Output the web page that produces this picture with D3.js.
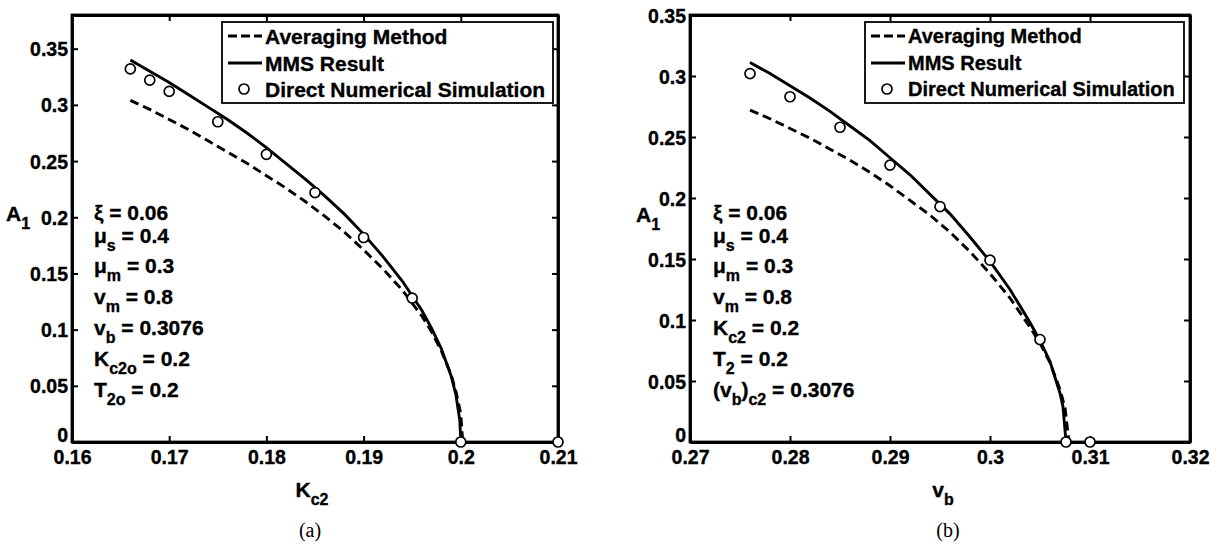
<!DOCTYPE html>
<html>
<head>
<meta charset="utf-8">
<script src="https://cdn.jsdelivr.net/npm/d3@7"></script>
<style>
  html, body { margin: 0; padding: 0; background: #fff; }
  svg { display: block; }
  .bold { font-family: "Liberation Sans", Arial, Helvetica, sans-serif; font-weight: bold; fill: #000; stroke: #000; stroke-width: 0.35px; }
  .cap { font-family: "Liberation Serif", "Times New Roman", serif; fill: #000; }
</style>
</head>
<body>
<svg id="chart" width="1222" height="550"></svg>
<script>
// ---------------- DATA ----------------
// Panel (a): A1 vs Kc2
const leftMmsX = [0.166, 0.168, 0.170, 0.172, 0.174, 0.176, 0.178, 0.180, 0.182, 0.184, 0.186, 0.188, 0.190, 0.192, 0.194, 0.196, 0.197, 0.198, 0.199, 0.1995, 0.1999, 0.2000];
const leftMmsY = [0.340, 0.330, 0.320, 0.309, 0.298, 0.287, 0.275, 0.262, 0.248, 0.234, 0.219, 0.203, 0.185, 0.165, 0.143, 0.117, 0.101, 0.083, 0.059, 0.042, 0.019, 0.000];
const leftAvgX = [0.166, 0.168, 0.170, 0.172, 0.174, 0.176, 0.178, 0.180, 0.182, 0.184, 0.186, 0.188, 0.190, 0.192, 0.194, 0.196, 0.197, 0.198, 0.199, 0.1995, 0.2000, 0.2002];
const leftAvgY = [0.304, 0.296, 0.287, 0.278, 0.268, 0.258, 0.248, 0.237, 0.226, 0.214, 0.201, 0.187, 0.171, 0.154, 0.135, 0.112, 0.098, 0.081, 0.060, 0.045, 0.025, 0.000];
const leftDnsX = [0.166, 0.168, 0.170, 0.175, 0.180, 0.185, 0.190, 0.195, 0.200, 0.210];
const leftDnsY = [0.332, 0.322, 0.312, 0.285, 0.256, 0.222, 0.182, 0.128, 0.000, 0.000];
const leftXTicks = [0.16, 0.17, 0.18, 0.19, 0.2, 0.21];
const leftXTickLabels = ["0.16", "0.17", "0.18", "0.19", "0.2", "0.21"];
const leftYTicks = [0, 0.05, 0.1, 0.15, 0.2, 0.25, 0.3, 0.35];
const leftYTickLabels = ["0", "0.05", "0.1", "0.15", "0.2", "0.25", "0.3", "0.35"];
const leftParams = [
  [["ξ = 0.06", ""]],
  [["μ", ""], ["s", "sub"], [" = 0.4", ""]],
  [["μ", ""], ["m", "sub"], [" = 0.3", ""]],
  [["v", ""], ["m", "sub"], [" = 0.8", ""]],
  [["v", ""], ["b", "sub"], [" = 0.3076", ""]],
  [["K", ""], ["c2o", "sub"], [" = 0.2", ""]],
  [["T", ""], ["2o", "sub"], [" = 0.2", ""]]
];

// Panel (b): A1 vs vb
const rightMmsX = [0.276, 0.278, 0.280, 0.282, 0.284, 0.286, 0.288, 0.290, 0.292, 0.294, 0.296, 0.298, 0.300, 0.302, 0.304, 0.305, 0.306, 0.307, 0.3073, 0.3076];
const rightMmsY = [0.311, 0.302, 0.292, 0.282, 0.271, 0.259, 0.247, 0.233, 0.219, 0.203, 0.187, 0.168, 0.148, 0.125, 0.098, 0.083, 0.066, 0.040, 0.029, 0.000];
const rightAvgX = [0.276, 0.278, 0.280, 0.282, 0.284, 0.286, 0.288, 0.290, 0.292, 0.294, 0.296, 0.298, 0.300, 0.302, 0.304, 0.305, 0.306, 0.307, 0.3075, 0.3079];
const rightAvgY = [0.272, 0.265, 0.257, 0.249, 0.240, 0.231, 0.221, 0.210, 0.198, 0.186, 0.172, 0.156, 0.138, 0.118, 0.094, 0.081, 0.065, 0.043, 0.028, 0.000];
const rightDnsX = [0.276, 0.280, 0.285, 0.290, 0.295, 0.300, 0.305, 0.3076, 0.310];
const rightDnsY = [0.302, 0.283, 0.258, 0.227, 0.193, 0.149, 0.084, 0.000, 0.000];
const rightXTicks = [0.27, 0.28, 0.29, 0.3, 0.31, 0.32];
const rightXTickLabels = ["0.27", "0.28", "0.29", "0.3", "0.31", "0.32"];
const rightYTicks = [0, 0.05, 0.1, 0.15, 0.2, 0.25, 0.3, 0.35];
const rightYTickLabels = ["0", "0.05", "0.1", "0.15", "0.2", "0.25", "0.3", "0.35"];
const rightParams = [
  [["ξ = 0.06", ""]],
  [["μ", ""], ["s", "sub"], [" = 0.4", ""]],
  [["μ", ""], ["m", "sub"], [" = 0.3", ""]],
  [["v", ""], ["m", "sub"], [" = 0.8", ""]],
  [["K", ""], ["c2", "sub"], [" = 0.2", ""]],
  [["T", ""], ["2", "sub"], [" = 0.2", ""]],
  [["(v", ""], ["b", "sub"], [")", ""], ["c2", "sub"], [" = 0.3076", ""]]
];

const legendLabels = ["Averaging Method", "MMS Result", "Direct Numerical Simulation"];
const captions = ["(a)", "(b)"];

// ---------------- DRAW ----------------
const svg = d3.select("#chart");
const paramBaselines = [220, 243, 273, 304, 335, 366, 397];

function drawPanel(o) {
  const x = d3.scaleLinear().domain(o.xDomain).range([o.left, o.right]);
  const y = d3.scaleLinear().domain(o.yDomain).range([442, 15]);
  const g = svg.append("g");
  const axW = 2.8;

  // curves
  const line = d3.line().x(d => x(d[0])).y(d => y(d[1]));
  g.append("path").datum(d3.zip(o.avgX, o.avgY)).attr("d", line)
    .attr("fill", "none").attr("stroke", "#000").attr("stroke-width", 2.9)
    .attr("stroke-dasharray", "9,5");
  g.append("path").datum(d3.zip(o.mmsX, o.mmsY)).attr("d", line)
    .attr("fill", "none").attr("stroke", "#000").attr("stroke-width", 2.9);

  // axes (inward ticks, MATLAB style)
  const fmtX = (d, i) => o.xLabels[i];
  const fmtY = (d, i) => o.yLabels[i];
  const bottom = g.append("g").attr("transform", `translate(0,${y(0)})`)
    .call(d3.axisBottom(x).tickValues(o.xTicks).tickFormat(fmtX).tickSizeInner(-6).tickSizeOuter(0).tickPadding(8));
  const top = g.append("g").attr("transform", `translate(0,${y.range()[1]})`)
    .call(d3.axisTop(x).tickValues(o.xTicks).tickFormat("").tickSizeInner(-6).tickSizeOuter(0));
  const leftAx = g.append("g").attr("transform", `translate(${o.left},0)`)
    .call(d3.axisLeft(y).tickValues(o.yTicks).tickFormat(fmtY).tickSizeInner(-6).tickSizeOuter(0).tickPadding(4));
  const rightAx = g.append("g").attr("transform", `translate(${o.right},0)`)
    .call(d3.axisRight(y).tickValues(o.yTicks).tickFormat("").tickSizeInner(-6).tickSizeOuter(0));
  [bottom, top, leftAx, rightAx].forEach(a => {
    a.select(".domain").attr("stroke", "#000").attr("stroke-width", axW);
    a.selectAll(".tick line").attr("stroke", "#000").attr("stroke-width", 2);
    a.selectAll(".tick text").attr("class", "bold").attr("font-size", 19.5)
      .attr("font-family", null);
  });
  bottom.selectAll(".tick text").attr("dy", "0.72em");
  leftAx.selectAll(".tick text").attr("dy", (d, i) => i === 0 ? "-0.05em" : "0.36em");
  // frame
  g.append("rect").attr("x", o.left).attr("y", y.range()[1]).attr("width", o.right - o.left)
    .attr("height", y(0) - y.range()[1]).attr("fill", "none").attr("stroke", "#000").attr("stroke-width", axW);

  // DNS circles
  g.selectAll("circle.dns").data(d3.zip(o.dnsX, o.dnsY)).enter().append("circle")
    .attr("class", "dns").attr("cx", d => x(d[0])).attr("cy", d => y(d[1])).attr("r", 5)
    .attr("fill", "#fff").attr("stroke", "#000").attr("stroke-width", 1.7);

  // legend
  const lg = g.append("g");
  lg.append("rect").attr("x", o.legX).attr("y", 22).attr("width", o.legW).attr("height", 81)
    .attr("fill", "#fff").attr("stroke", "#000").attr("stroke-width", 1.8);
  const rowsY = [36, 63, 89];
  lg.append("line").attr("x1", o.legX + 6).attr("x2", o.legX + 40).attr("y1", rowsY[0]).attr("y2", rowsY[0])
    .attr("stroke", "#000").attr("stroke-width", 2.9).attr("stroke-dasharray", "9,4");
  lg.append("line").attr("x1", o.legX + 6).attr("x2", o.legX + 40).attr("y1", rowsY[1]).attr("y2", rowsY[1])
    .attr("stroke", "#000").attr("stroke-width", 2.9);
  lg.append("circle").attr("cx", o.legX + 22).attr("cy", rowsY[2]).attr("r", 5)
    .attr("fill", "#fff").attr("stroke", "#000").attr("stroke-width", 1.7);
  legendLabels.forEach((t, i) => {
    lg.append("text").attr("class", "bold").attr("font-size", o.legFont)
      .attr("x", o.legX + 43).attr("y", rowsY[i]).attr("dy", "0.36em").text(t);
  });

  // parameters text
  o.params.forEach((segs, i) => {
    const t = g.append("text").attr("class", "bold").attr("font-size", 21)
      .attr("x", o.paramX).attr("y", paramBaselines[i]);
    let sub = false;
    segs.forEach(s => {
      const ts = t.append("tspan").text(s[0]);
      if (s[1] === "sub" && !sub) { ts.attr("dy", 8).attr("font-size", 16); sub = true; }
      else if (s[1] !== "sub" && sub) { ts.attr("dy", -8); sub = false; }
      else if (s[1] === "sub") { ts.attr("font-size", 16); }
    });
  });

  // axis labels
  const xl = g.append("text").attr("class", "bold").attr("font-size", 21)
    .attr("x", o.xLabelX).attr("y", 497).attr("text-anchor", "middle");
  xl.append("tspan").text(o.xLabel[0]);
  xl.append("tspan").text(o.xLabel[1]).attr("dy", 8).attr("font-size", 16);
  const yl = g.append("text").attr("class", "bold").attr("font-size", 21)
    .attr("x", o.yLabelX).attr("y", o.yLabelY);
  yl.append("tspan").text("A");
  yl.append("tspan").text("1").attr("dy", 8).attr("font-size", 16);

  // caption
  g.append("text").attr("class", "cap").attr("font-size", 20).attr("text-anchor", "middle")
    .attr("x", o.capX).attr("y", 537).text(o.caption);
}

drawPanel({
  xDomain: [0.16, 0.21], yDomain: [0, 0.38], left: 72, right: 558,
  mmsX: leftMmsX, mmsY: leftMmsY, avgX: leftAvgX, avgY: leftAvgY, dnsX: leftDnsX, dnsY: leftDnsY,
  xTicks: leftXTicks, xLabels: leftXTickLabels, yTicks: leftYTicks, yLabels: leftYTickLabels,
  legX: 222, legW: 331, legFont: 21, params: leftParams, paramX: 94,
  xLabel: ["K", "c2"], xLabelX: 312, yLabelX: 6, yLabelY: 221, capX: 310, caption: captions[0]
});
drawPanel({
  xDomain: [0.27, 0.32], yDomain: [0, 0.35], left: 690, right: 1190,
  mmsX: rightMmsX, mmsY: rightMmsY, avgX: rightAvgX, avgY: rightAvgY, dnsX: rightDnsX, dnsY: rightDnsY,
  xTicks: rightXTicks, xLabels: rightXTickLabels, yTicks: rightYTicks, yLabels: rightYTickLabels,
  legX: 865, legW: 319, legFont: 20, params: rightParams, paramX: 713,
  xLabel: ["v", "b"], xLabelX: 943, yLabelX: 636, yLabelY: 222, capX: 948, caption: captions[1]
});
</script>
</body>
</html>
